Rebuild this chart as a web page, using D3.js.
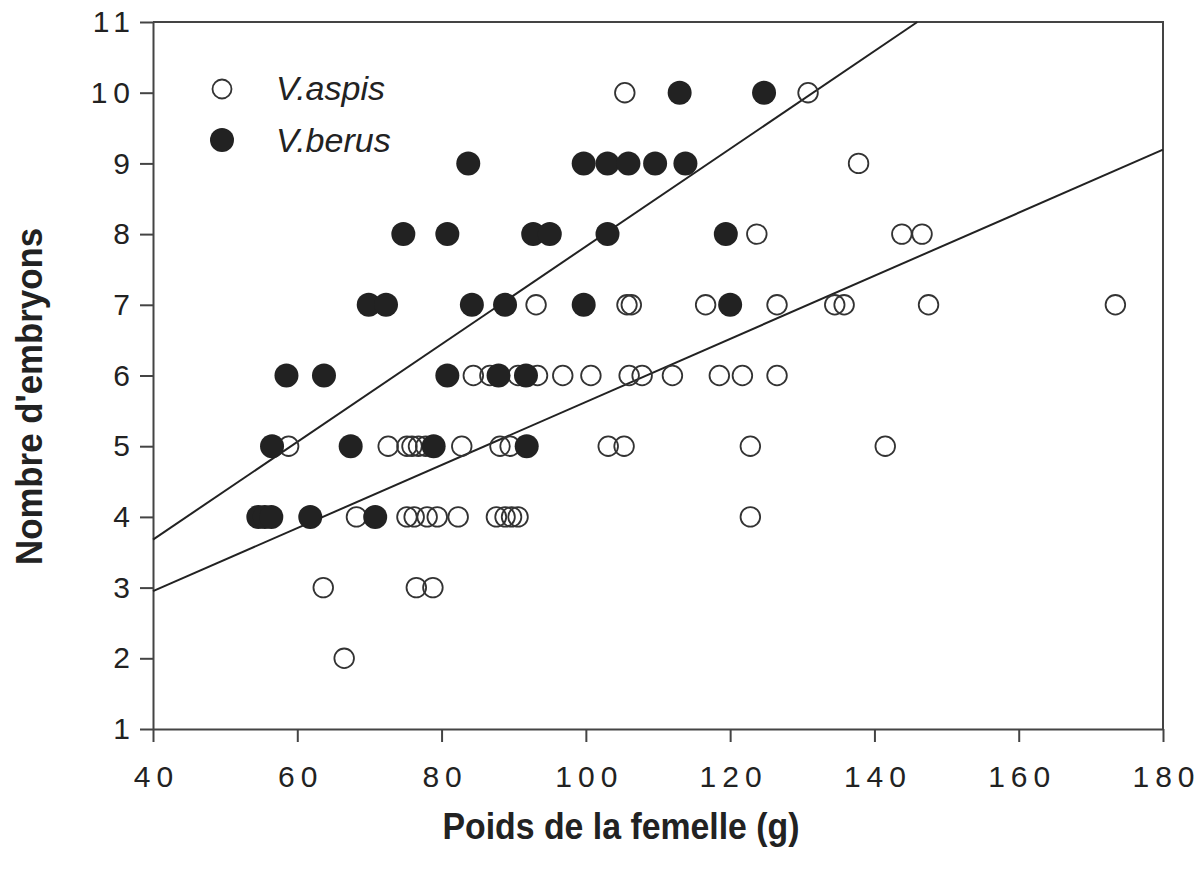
<!DOCTYPE html>
<html>
<head>
<meta charset="utf-8">
<script src="https://cdn.jsdelivr.net/npm/d3@7"></script>
<style>
  html, body { margin: 0; padding: 0; background: #fff; }
  svg { display: block; }
</style>
</head>
<body>
<svg id="chart" width="1203" height="875"></svg>
<script>
// ---- Data ----
const seriesNames = ["V.aspis", "V.berus"];

// V.aspis (open circles): female mass (g) and number of embryos
const aspisWeight = [
  105.4, 130.8,
  137.8,
  123.7, 143.8, 146.6,
  93.1, 105.7, 106.3, 116.6, 126.5, 134.5, 135.8, 147.5, 173.4,
  84.4, 86.7, 90.6, 93.3, 96.8, 100.7, 106.0, 107.8, 112.0, 118.5, 121.7, 126.5,
  58.8, 72.6, 75.2, 75.9, 76.8, 77.8, 82.8, 88.1, 89.5, 103.1, 105.3, 122.8, 141.5,
  68.2, 75.2, 76.2, 78.0, 79.4, 82.3, 87.6, 88.8, 89.7, 90.6, 122.8,
  63.6, 76.5, 78.8,
  66.5
];
const aspisEmbryos = [
  10, 10,
  9,
  8, 8, 8,
  7, 7, 7, 7, 7, 7, 7, 7, 7,
  6, 6, 6, 6, 6, 6, 6, 6, 6, 6, 6, 6,
  5, 5, 5, 5, 5, 5, 5, 5, 5, 5, 5, 5, 5,
  4, 4, 4, 4, 4, 4, 4, 4, 4, 4, 4,
  3, 3, 3,
  2
];

// V.berus (filled circles)
const berusWeight = [
  113.0, 124.7,
  83.7, 99.7, 103.0, 105.9, 109.6, 113.8,
  74.7, 80.8, 92.7, 95.0, 103.0, 119.4,
  69.9, 72.3, 84.2, 88.8, 99.7, 120.0,
  58.5, 63.7, 80.8, 87.9, 91.7,
  56.5, 67.4, 78.9, 91.8,
  54.6, 55.5, 56.4, 61.8, 70.8
];
const berusEmbryos = [
  10, 10,
  9, 9, 9, 9, 9, 9,
  8, 8, 8, 8, 8, 8,
  7, 7, 7, 7, 7, 7,
  6, 6, 6, 6, 6,
  5, 5, 5, 5,
  4, 4, 4, 4, 4
];

// Regression lines: embryos = intercept + slope * weight  [aspis, berus]
const lineIntercepts = [1.166, 0.915];
const lineSlopes = [0.0446, 0.0691];

const xTicks = [40, 60, 80, 100, 120, 140, 160, 180];
const yTicks = [1, 2, 3, 4, 5, 6, 7, 8, 9, 10, 11];
const xDomain = [40, 180];
const yDomain = [1, 11];
const xTitle = "Poids de la femelle (g)";
const yTitle = "Nombre d'embryons";

// ---- Layout ----
const plotL = 153, plotR = 1163, plotT = 22, plotB = 729;
const ink = "#222";
const tickFont = "'Liberation Sans', Arial, Helvetica, sans-serif";

const svg = d3.select("#chart");
const x = d3.scaleLinear().domain(xDomain).range([plotL, plotR]);
const y = d3.scaleLinear().domain(yDomain).range([plotB, plotT]);

// frame (top and right)
svg.append("path")
  .attr("d", `M${plotL},${plotT}H${plotR}V${plotB}`)
  .attr("fill", "none").attr("stroke", "#444").attr("stroke-width", 2);

// axes
const xAxis = d3.axisBottom(x).tickValues(xTicks).tickSize(13).tickSizeOuter(0).tickPadding(24);
const yAxis = d3.axisLeft(y).tickValues(yTicks).tickSize(13).tickSizeOuter(0).tickPadding(10);

const gx = svg.append("g").attr("transform", `translate(0,${plotB})`).call(xAxis);
const gy = svg.append("g").attr("transform", `translate(${plotL},0)`).call(yAxis);

[gx, gy].forEach(g => {
  g.select(".domain").attr("stroke", "#444").attr("stroke-width", 2);
  g.selectAll(".tick line").attr("stroke", "#444").attr("stroke-width", 2);
  g.selectAll(".tick text")
    .attr("fill", ink)
    .style("font-family", tickFont)
    .style("font-size", "30px")
    .style("letter-spacing", "6px");
});
gx.selectAll(".tick text").attr("dx", "3px");
gy.selectAll(".tick text").attr("dx", "6px");

// regression lines
const lineData = lineIntercepts.map((b, i) => {
  const m = lineSlopes[i];
  let x1 = xDomain[1];
  if (b + m * x1 > yDomain[1]) x1 = (yDomain[1] - b) / m;
  return [[xDomain[0], b + m * xDomain[0]], [x1, b + m * x1]];
});
svg.append("g").selectAll("path").data(lineData).join("path")
  .attr("d", d3.line().x(d => x(d[0])).y(d => y(d[1])))
  .attr("fill", "none").attr("stroke", ink).attr("stroke-width", 2);

// points
const aspis = aspisWeight.map((w, i) => ({ w, n: aspisEmbryos[i] }));
const berus = berusWeight.map((w, i) => ({ w, n: berusEmbryos[i] }));

svg.append("g").selectAll("circle").data(aspis).join("circle")
  .attr("cx", d => x(d.w)).attr("cy", d => y(d.n)).attr("r", 9.8)
  .attr("fill", "none").attr("stroke", "#333").attr("stroke-width", 1.8);

svg.append("g").selectAll("circle").data(berus).join("circle")
  .attr("cx", d => x(d.w)).attr("cy", d => y(d.n)).attr("r", 12)
  .attr("fill", ink);

// legend
const legend = svg.append("g");
legend.append("circle").attr("cx", 222).attr("cy", 89).attr("r", 9.5)
  .attr("fill", "none").attr("stroke", "#333").attr("stroke-width", 1.8);
legend.append("circle").attr("cx", 222).attr("cy", 140).attr("r", 12).attr("fill", ink);
legend.selectAll("text").data(seriesNames).join("text")
  .attr("x", 276).attr("y", (d, i) => 100 + i * 52)
  .text(d => d)
  .attr("fill", ink)
  .style("font-family", tickFont)
  .style("font-style", "italic")
  .style("font-size", "34px");

// axis titles
svg.append("text")
  .attr("x", 621).attr("y", 839)
  .attr("text-anchor", "middle")
  .attr("textLength", 357).attr("lengthAdjust", "spacingAndGlyphs")
  .attr("fill", ink)
  .style("font-family", "'Liberation Sans Narrow', 'Liberation Sans', Arial, sans-serif")
  .style("font-weight", "bold")
  .style("font-size", "37px")
  .text(xTitle);

svg.append("text")
  .attr("transform", `translate(42,${(228 + 565) / 2}) rotate(-90)`)
  .attr("text-anchor", "middle")
  .attr("textLength", 337).attr("lengthAdjust", "spacingAndGlyphs")
  .attr("fill", ink)
  .style("font-family", "'Liberation Sans Narrow', 'Liberation Sans', Arial, sans-serif")
  .style("font-weight", "bold")
  .style("font-size", "37px")
  .text(yTitle);
</script>
</body>
</html>
